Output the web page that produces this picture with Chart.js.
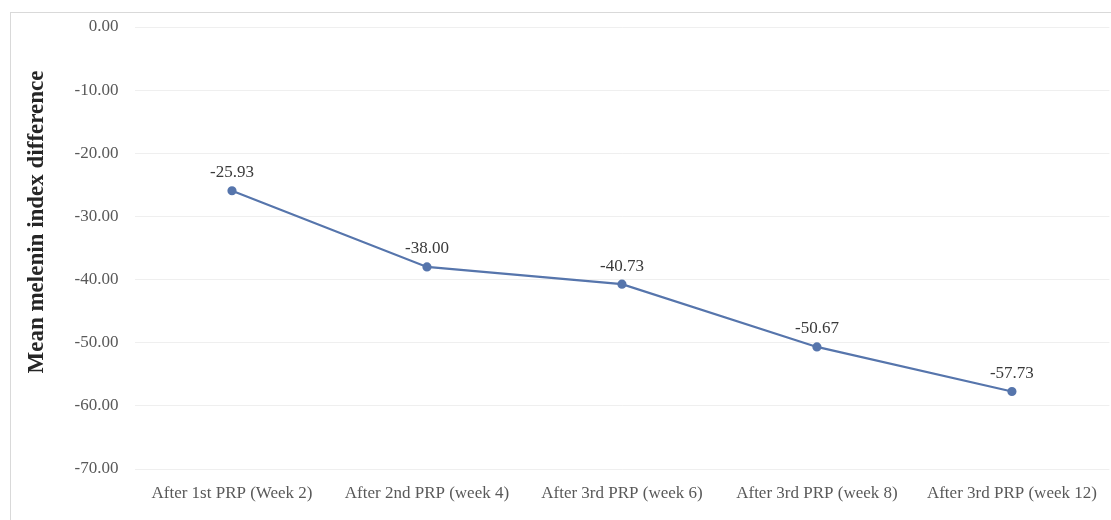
<!DOCTYPE html>
<html>
<head>
<meta charset="utf-8">
<script src="https://cdn.jsdelivr.net/npm/chart.js@4.4.1/dist/chart.umd.min.js"></script>
<style>
  html, body { margin: 0; padding: 0; background: #fff; }
  #wrap { position: relative; width: 1111px; height: 520px; overflow: hidden; }
  #frame { position: absolute; left: 10px; top: 12px; width: 1130px; height: 540px; border: 1px solid #d9d9d9; box-sizing: border-box; }
  canvas { position: absolute; left: 0; top: 0; }
</style>
</head>
<body>
<div id="wrap">
  <div id="frame"></div>
  <canvas id="c" width="1111" height="520"></canvas>
</div>
<script>
const categories = [
  'After 1st PRP (Week 2)',
  'After 2nd PRP (week 4)',
  'After 3rd PRP (week 6)',
  'After 3rd PRP (week 8)',
  'After 3rd PRP (week 12)'
];
const meanDifference = [-25.93, -38.00, -40.73, -50.67, -57.73];
const yTicks = [0, -10, -20, -30, -40, -50, -60, -70];
const yTitle = 'Mean melenin index difference';

const SERIF = '"Liberation Serif", "DejaVu Serif", serif';

const dataLabels = {
  id: 'dataLabels',
  afterDatasetsDraw(chart) {
    const ctx = chart.ctx;
    const meta = chart.getDatasetMeta(0);
    ctx.save();
    ctx.font = '17px ' + SERIF;
    ctx.fillStyle = '#3a3a3a';
    ctx.textAlign = 'center';
    ctx.textBaseline = 'middle';
    meta.data.forEach((pt, i) => {
      ctx.fillText(meanDifference[i].toFixed(2), pt.x, pt.y - 18);
    });
    ctx.restore();
  }
};

const yTitlePlugin = {
  id: 'yTitlePlugin',
  afterDraw(chart) {
    const ctx = chart.ctx;
    ctx.save();
    ctx.translate(37, 222);
    ctx.rotate(-Math.PI / 2);
    ctx.font = 'bold 23px ' + SERIF;
    ctx.fillStyle = '#262626';
    ctx.textAlign = 'center';
    ctx.textBaseline = 'middle';
    ctx.fillText(yTitle, 0, 0);
    ctx.restore();
  }
};

new Chart(document.getElementById('c'), {
  type: 'line',
  data: {
    labels: categories,
    datasets: [{
      data: meanDifference,
      borderColor: '#5675AC',
      backgroundColor: '#5675AC',
      borderWidth: 2.2,
      pointRadius: 3.5,
      pointHoverRadius: 3.5,
      tension: 0
    }]
  },
  options: {
    responsive: false,
    animation: false,
    layout: { autoPadding: false, padding: { left: 30, top: 27, right: 1, bottom: 0 } },
    plugins: { legend: { display: false }, tooltip: { enabled: false } },
    scales: {
      x: {
        offset: true,
        grid: { display: false, drawTicks: false },
        border: { display: false },
        ticks: {
          color: '#595959',
          padding: 14,
          maxRotation: 0,
          autoSkip: false,
          font: { family: SERIF, size: 17 }
        },
        afterFit(scale) { scale.height = 51; }
      },
      y: {
        min: -70,
        max: 0,
        afterBuildTicks(scale) { scale.ticks = yTicks.map(v => ({ value: v })); },
        grid: { color: '#efefef', drawTicks: false, lineWidth: 1 },
        border: { display: false },
        ticks: {
          color: '#595959',
          padding: 16,
          font: { family: SERIF, size: 17 },
          callback: v => Number(v).toFixed(2)
        },
        title: { display: false },
        afterFit(scale) { scale.width = 104.5; }
      }
    }
  },
  plugins: [dataLabels, yTitlePlugin]
});
</script>
</body>
</html>
